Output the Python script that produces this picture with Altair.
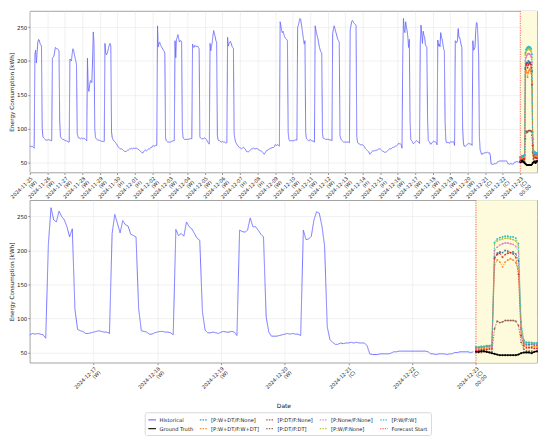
import altair as alt
import pandas as pd

# ---------------- data ----------------
first_day = "2024-11-25"
day_codes = ["W", "W", "W", "W", "W", "H", "H", "W", "W", "W", "W", "W", "H", "H",
             "W", "W", "W", "W", "W", "H", "H", "W", "W", "W", "W", "W", "C", "C", "C"]

# hourly historical consumption [kWh], one list per day (00:00 ... 23:00)
h_1125 = [74, 74, 73, 74, 73, 72, 71, 210, 216, 197, 212, 228, 232, 231, 226, 224, 222, 100, 88, 86, 85, 84, 83, 83]
h_1126 = [83, 83, 84, 83, 83, 82, 82, 204, 206, 207, 213, 220, 219, 218, 218, 217, 216, 110, 88, 86, 85, 84, 84, 83]
h_1127 = [83, 82, 82, 81, 81, 80, 80, 203, 202, 200, 210, 218, 216, 210, 205, 200, 195, 92, 88, 86, 86, 85, 85, 86]
h_1128 = [85, 85, 86, 85, 84, 83, 82, 204, 160, 155, 165, 171, 170, 168, 200, 243, 225, 100, 87, 85, 84, 83, 83, 83]
h_1129 = [82, 82, 81, 81, 81, 81, 81, 226, 212, 209, 211, 215, 220, 224, 226, 222, 95, 86, 84, 82, 81, 80, 78, 77]
h_1130 = [75, 73, 72, 71, 70, 70, 70, 69, 68, 67, 66, 66, 66, 67, 68, 68, 69, 70, 70, 71, 70, 70, 71, 71]
h_1201 = [70, 71, 71, 70, 70, 69, 68, 67, 66, 65, 64, 64, 66, 67, 68, 68, 67, 68, 69, 70, 70, 71, 72, 72]
h_1202 = [74, 75, 74, 74, 75, 75, 75, 252, 221, 226, 228, 224, 222, 220, 218, 216, 215, 212, 86, 82, 81, 80, 80, 80]
h_1203 = [80, 80, 81, 81, 82, 82, 82, 230, 205, 232, 235, 239, 233, 228, 230, 230, 229, 100, 86, 85, 84, 84, 84, 84]
h_1204 = [84, 84, 84, 85, 85, 85, 85, 225, 221, 220, 223, 222, 222, 221, 222, 220, 218, 88, 86, 85, 85, 85, 85, 86]
h_1205 = [86, 85, 84, 82, 80, 78, 77, 226, 215, 222, 228, 238, 245, 240, 236, 230, 228, 90, 83, 82, 82, 81, 80, 80]
h_1206 = [81, 80, 80, 80, 79, 79, 79, 235, 222, 226, 228, 229, 226, 222, 220, 219, 92, 85, 80, 78, 76, 75, 73, 72]
h_1207 = [72, 71, 70, 71, 72, 72, 71, 70, 68, 66, 66, 65, 66, 67, 68, 69, 70, 70, 71, 71, 70, 70, 70, 71]
h_1208 = [70, 69, 68, 68, 67, 67, 66, 65, 64, 62, 63, 65, 67, 68, 68, 69, 70, 70, 71, 71, 72, 72, 72, 73]
h_1209 = [76, 76, 75, 76, 76, 75, 74, 258, 252, 245, 242, 244, 240, 236, 234, 233, 232, 230, 95, 84, 82, 82, 82, 82]
h_1210 = [82, 82, 82, 83, 83, 83, 83, 250, 253, 258, 263, 262, 255, 248, 240, 232, 225, 230, 95, 85, 84, 83, 82, 82]
h_1211 = [84, 83, 82, 82, 81, 81, 80, 252, 246, 241, 236, 232, 225, 220, 216, 213, 212, 92, 86, 85, 85, 84, 84, 84]
h_1212 = [84, 84, 84, 83, 83, 83, 82, 241, 247, 252, 248, 244, 240, 236, 232, 230, 228, 90, 85, 83, 82, 81, 80, 80]
h_1213 = [80, 80, 80, 80, 80, 80, 79, 246, 252, 258, 260, 258, 256, 255, 254, 253, 88, 80, 78, 77, 77, 76, 76, 76]
h_1214 = [76, 75, 74, 72, 70, 69, 68, 67, 66, 64, 62, 63, 65, 66, 67, 67, 67, 67, 68, 68, 68, 69, 70, 70]
h_1215 = [70, 69, 68, 67, 66, 66, 65, 65, 65, 66, 67, 68, 69, 70, 70, 70, 71, 72, 72, 73, 73, 74, 74, 75]
h_1216 = [76, 78, 77, 78, 77, 76, 71, 210, 263, 245, 242, 258, 250, 245, 235, 220, 232, 113, 84, 82, 81, 78, 78, 79]
h_1217 = [80, 81, 82, 81, 80, 80, 78, 225, 253, 240, 226, 244, 238, 236, 224, 222, 220, 114, 82, 81, 80, 77, 77, 79]
h_1218 = [80, 81, 81, 80, 80, 79, 76, 231, 222, 225, 221, 242, 235, 232, 225, 218, 215, 110, 83, 79, 79, 80, 79, 78]
h_1219 = [80, 81, 80, 80, 81, 80, 75, 230, 228, 227, 230, 248, 235, 235, 230, 224, 220, 102, 80, 74, 74, 74, 75, 76]
h_1220 = [77, 78, 77, 78, 77, 77, 75, 230, 216, 217, 221, 245, 257, 255, 236, 207, 88, 69, 65, 62, 62, 64, 63, 64]
h_1221 = [64, 65, 64, 65, 64, 64, 64, 60, 48, 47, 47, 47, 48, 48, 48, 48, 49, 51, 51, 52, 52, 52, 52, 52]
h_1222 = [52, 52, 52, 52, 52, 52, 51, 48, 48, 47, 48, 48, 48, 47, 48, 48, 50, 50, 51, 51, 51, 51, 50, 51]

hist_days = [h_1125, h_1126, h_1127, h_1128, h_1129, h_1130, h_1201, h_1202, h_1203, h_1204,
             h_1205, h_1206, h_1207, h_1208, h_1209, h_1210, h_1211, h_1212, h_1213, h_1214,
             h_1215, h_1216, h_1217, h_1218, h_1219, h_1220, h_1221, h_1222]

forecast_day = "2024-12-23"
ground_truth = [51, 51, 52, 52, 51, 50, 49, 48, 47, 46, 46, 46, 46, 46, 46, 46, 47, 49, 50, 50, 50, 49, 51, 52]
fc_w_dt_none = [57, 57, 58, 58, 59, 59, 60, 190, 196, 198, 197, 200, 199, 197, 198, 195, 185, 85, 64, 62, 62, 62, 61, 61]
fc_w_dt_w_dt = [55, 55, 56, 56, 56, 57, 57, 178, 186, 183, 176, 183, 186, 188, 186, 182, 170, 75, 62, 60, 60, 59, 59, 59]
fc_dt_none = [53, 53, 54, 54, 54, 55, 55, 188, 194, 196, 190, 194, 196, 197, 195, 190, 165, 75, 60, 57, 57, 57, 56, 56]
fc_dt_dt = [50, 50, 50, 51, 51, 51, 51, 85, 96, 94, 95, 97, 97, 97, 97, 96, 90, 65, 55, 52, 52, 52, 51, 51]
fc_none_none = [57, 57, 58, 58, 58, 59, 59, 200, 205, 208, 210, 211, 211, 210, 209, 206, 198, 85, 66, 64, 64, 63, 63, 63]
fc_w_none = [58, 58, 59, 59, 60, 60, 61, 210, 214, 216, 217, 218, 218, 217, 216, 214, 205, 90, 68, 65, 65, 65, 64, 64]
fc_w_w = [58, 58, 59, 59, 60, 60, 61, 212, 217, 219, 220, 221, 221, 220, 220, 218, 210, 95, 68, 65, 65, 64, 64, 64]

forecasts = {
    "[P:W+DT/F:None]": fc_w_dt_none,
    "[P:W+DT/F:W+DT]": fc_w_dt_w_dt,
    "[P:DT/F:None]": fc_dt_none,
    "[P:DT/F:DT]": fc_dt_dt,
    "[P:None/F:None]": fc_none_none,
    "[P:W/F:None]": fc_w_none,
    "[P:W/F:W]": fc_w_w,
}

# legend order (filled column by column, 2 rows x 5 columns)
series_order = ["Historical", "Ground Truth", "[P:W+DT/F:None]", "[P:W+DT/F:W+DT]",
                "[P:DT/F:None]", "[P:DT/F:DT]", "[P:None/F:None]", "[P:W/F:None]",
                "[P:W/F:W]", "Forecast Start"]
series_colors = ["#6666ff", "#000000", "#1f77b4", "#ff7f0e", "#d62728", "#8c564b",
                 "#e377c2", "#bcbd22", "#17becf", "#ff4d4d"]
series_dash = [[1, 0], [1, 0], [1.5, 1.2], [1.5, 1.2], [1.5, 1.2], [1.5, 1.2],
               [1.5, 1.2], [1.5, 1.2], [1.5, 1.2], [1.2, 1.2]]

# ---------------- tables ----------------
rows = []
for d, vals in zip(pd.date_range(first_day, periods=len(hist_days), freq="D"), hist_days):
    for h, v in enumerate(vals):
        rows.append({"t": d + pd.Timedelta(hours=h), "v": v, "series": "Historical"})
hist = pd.DataFrame(rows)

fday = pd.Timestamp(forecast_day)
gt = pd.DataFrame({"t": [fday + pd.Timedelta(hours=h) for h in range(24)],
                   "v": ground_truth, "series": "Ground Truth"})
fc_rows = []
for name, vals in forecasts.items():
    for h, v in enumerate(vals):
        fc_rows.append({"t": fday + pd.Timedelta(hours=h), "v": v, "series": name})
fc = pd.DataFrame(fc_rows)

end_t = fday + pd.Timedelta(hours=23)
shade = pd.DataFrame({"t": [fday], "t2": [end_t]})
fstart = pd.DataFrame({"t": [fday], "series": ["Forecast Start"]})

color_scale = alt.Scale(domain=series_order, range=series_colors)
dash_scale = alt.Scale(domain=series_order, range=series_dash)

legend = alt.Legend(title=None, orient="none", legendX=116, legendY=405, columns=5,
                    symbolType="stroke", symbolStrokeWidth=1.2, symbolSize=60,
                    labelFontSize=5.2, labelFont="DejaVu Sans", labelColor="#222",
                    columnPadding=4, rowPadding=1, padding=3, labelOffset=3,
                    strokeColor="#d9d9d9", cornerRadius=2, fillColor="white", labelLimit=300)

FONT = "DejaVu Sans"
label_expr = (
    "round((datum.value - datetime(2024,10,25))/86400000) == 28 ? "
    "[timeFormat(datum.value, '%Y-%m-%d'), '(' + " + str(day_codes) + "[round((datum.value - datetime(2024,10,25))/86400000)] + ')', '00:00'] : "
    "[timeFormat(datum.value, '%Y-%m-%d'), '(' + " + str(day_codes) + "[round((datum.value - datetime(2024,10,25))/86400000)] + ')']"
)


def dt(ts):
    return alt.DateTime(year=ts.year, month=ts.month, date=ts.day, hours=ts.hour)


def panel(start, tick_days, height, xtitle):
    x_scale = alt.Scale(domain=[dt(pd.Timestamp(start)), dt(end_t)], nice=False)
    x_axis = alt.Axis(values=[dt(t) for t in tick_days], labelExpr=label_expr, labelAngle=-45,
                      labelAlign="right", labelBaseline="top", labelLineHeight=5.6,
                      labelFontSize=5, labelOverlap=False, labelPadding=1, title=xtitle,
                      titlePadding=5, titleFontSize=6)
    y_scale = alt.Scale(domain=[35, 274], nice=False, zero=False)
    y_axis = alt.Axis(values=[50, 100, 150, 200, 250], title="Energy Consumption [kWh]")
    x = alt.X("t:T", scale=x_scale, axis=x_axis)
    y = alt.Y("v:Q", scale=y_scale, axis=y_axis)
    hist_p = hist[hist["t"] >= pd.Timestamp(start)]

    shade_l = alt.Chart(shade).mark_rect(color="#fdfbdc").encode(x=alt.X("t:T", scale=x_scale, axis=x_axis), x2="t2:T")
    hist_l = alt.Chart(hist_p).mark_line(strokeWidth=0.9, interpolate="linear").encode(
        x=x, y=y,
        color=alt.Color("series:N", scale=color_scale, legend=legend),
        strokeDash=alt.StrokeDash("series:N", scale=dash_scale, legend=legend))
    fc_l = alt.Chart(fc).mark_line(strokeWidth=0.9, opacity=0.85).encode(
        x=x, y=y,
        color=alt.Color("series:N", scale=color_scale, legend=legend),
        strokeDash=alt.StrokeDash("series:N", scale=dash_scale, legend=legend))
    fc_p = alt.Chart(fc).mark_circle(size=3.5, opacity=0.9).encode(
        x=x, y=y, color=alt.Color("series:N", scale=color_scale, legend=legend))
    gt_l = alt.Chart(gt).mark_line(strokeWidth=1.3).encode(
        x=x, y=y,
        color=alt.Color("series:N", scale=color_scale, legend=legend),
        strokeDash=alt.StrokeDash("series:N", scale=dash_scale, legend=legend))
    gt_p = alt.Chart(gt).mark_circle(size=4, opacity=1).encode(
        x=x, y=y, color=alt.Color("series:N", scale=color_scale, legend=legend))
    rule_l = alt.Chart(fstart).mark_rule(strokeWidth=0.9).encode(
        x=x,
        color=alt.Color("series:N", scale=color_scale, legend=legend),
        strokeDash=alt.StrokeDash("series:N", scale=dash_scale, legend=legend))
    return alt.layer(shade_l, hist_l, fc_l, fc_p, gt_l, gt_p, rule_l).properties(width=512, height=height)


top_ticks = list(pd.date_range(first_day, forecast_day, freq="D"))
bottom_ticks = list(pd.date_range("2024-12-17", forecast_day, freq="D"))

top = panel(first_day, top_ticks, 163, None)
bottom = panel("2024-12-16", bottom_ticks, 164, "Date")

chart = alt.vconcat(top, bottom, spacing=28, bounds="flush").properties(
    padding={"left": 0, "top": 0, "right": 2, "bottom": 1}
).configure_axis(
    labelFont=FONT, titleFont=FONT, labelFontSize=5.5, titleFontSize=5.8, tickSize=2,
    labelPadding=1, titlePadding=2, gridColor="#e8e8e8", gridWidth=0.6, domain=False,
    labelColor="#222", titleColor="#222", titleFontWeight="normal", tickColor="#555", tickWidth=0.6
).configure_view(stroke="#8a8a8a", strokeWidth=0.8)

chart.save("out.html", embed_options={"renderer": "svg", "actions": False})
